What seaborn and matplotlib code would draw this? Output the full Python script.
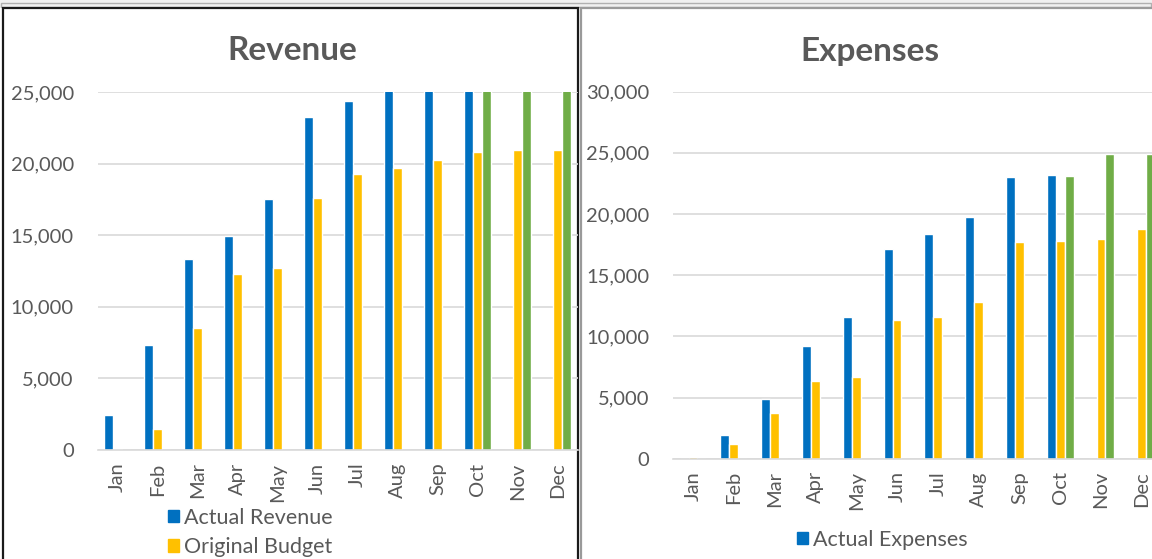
import matplotlib
matplotlib.use("Agg")
import matplotlib.pyplot as plt
from matplotlib.patches import Patch, Rectangle
from matplotlib.ticker import FuncFormatter, MultipleLocator
import pandas as pd
import seaborn as sns

# ---- data ----
months = ["Jan", "Feb", "Mar", "Apr", "May", "Jun",
          "Jul", "Aug", "Sep", "Oct", "Nov", "Dec"]

# Revenue chart (Aug-Dec tops run past the 25,000 axis limit and get clipped)
actual_revenue = [2440, 7330, 13360, 14940, 17530, 23280, 24390, 26800, 28100, 29400, 0, 0]
revenue_budget = [100, 1450, 8500, 12270, 12690, 17620, 19250, 19710, 20230, 20810, 20930, 20970]
revenue_forecast = [0, 0, 0, 0, 0, 0, 0, 0, 0, 30500, 31500, 32500]

# Expenses chart
actual_expenses = [0, 1940, 4880, 9240, 11610, 17120, 18340, 19780, 23050, 23190, 0, 0]
expense_budget = [100, 1180, 3710, 6350, 6650, 11340, 11560, 12830, 17740, 17820, 17960, 18750]
expense_forecast = [0, 0, 0, 0, 0, 0, 0, 0, 0, 23130, 24900, 24900]

rev_series = ["Actual Revenue", "Original Budget", "Forecast"]
exp_series = ["Actual Expenses", "Original Budget", "Forecast"]
colors = ["#0070C0", "#FFC000", "#70AD47"]

W, H = 1152, 559
TEXT = "#595959"
GRID = "#d9d9d9"

sns.set_style("white")
plt.rcParams["font.family"] = ["Lato", "DejaVu Sans"]


def long_df(names, cols):
    rows = []
    for name, vals in zip(names, cols):
        for m, v in zip(months, vals):
            rows.append({"Month": m, "Series": name, "Value": v})
    return pd.DataFrame(rows)


def fx(px):
    return px / W


def fy(py):
    return 1 - py / H


def draw(ax, df, names, ymax, width):
    sns.barplot(data=df, x="Month", y="Value", hue="Series", order=months,
                hue_order=names, palette=colors, width=width, saturation=1,
                errorbar=None, legend=False, ax=ax)
    ax.set_ylim(0, ymax)
    ax.set_xlim(-0.5, 11.5)
    ax.yaxis.set_major_locator(MultipleLocator(5000))
    ax.yaxis.set_major_formatter(FuncFormatter(lambda v, p: f"{v:,.0f}"))
    ax.yaxis.grid(True, color=GRID, lw=1.2)
    ax.set_axisbelow(True)
    ax.patch.set_alpha(0)
    for s in ["top", "right", "left"]:
        ax.spines[s].set_visible(False)
    ax.spines["bottom"].set_color(GRID)
    ax.spines["bottom"].set_linewidth(1.2)
    ax.tick_params(axis="y", length=0, pad=17, labelsize=14.5, labelcolor=TEXT)
    ax.tick_params(axis="x", length=0, pad=9, labelsize=14.5, labelcolor=TEXT,
                   rotation=90)
    ax.set_xlabel("")
    ax.set_ylabel("")


fig = plt.figure(figsize=(W / 100, H / 100), dpi=100)

# frame remnants of the spreadsheet window, kept behind the axes
fig.add_artist(Rectangle((0, fy(8)), 1, 1, transform=fig.transFigure,
                         facecolor="#f0f0f0", edgecolor="none", zorder=-10))
fig.add_artist(Rectangle((fx(1), fy(7)), fx(1150), 4 / H, transform=fig.transFigure,
                         facecolor="none", edgecolor="#b0b0b0", lw=1, zorder=-9))
fig.add_artist(Rectangle((fx(3), fy(580)), fx(575), 572 / H, transform=fig.transFigure,
                         facecolor="white", edgecolor="#1a1a1a", lw=1.6, zorder=-8))
fig.add_artist(Rectangle((fx(581), fy(580)), fx(590), 572 / H, transform=fig.transFigure,
                         facecolor="white", edgecolor="#9a9a9a", lw=1.6, zorder=-8))

# Revenue
ax1 = fig.add_axes([fx(97.5), fy(450), fx(480), 358 / H])
draw(ax1, long_df(rev_series, [actual_revenue, revenue_budget, revenue_forecast]),
     rev_series, 25000, 0.675)
fig.text(fx(292), fy(50), "Revenue", ha="center", va="center",
         fontsize=24, fontweight="bold", color=TEXT)
fig.legend(handles=[Patch(color=c, label=n) for c, n in zip(colors[:2], rev_series[:2])],
           loc="upper left", bbox_to_anchor=(fx(159), fy(499)), frameon=False,
           fontsize=15.5, labelcolor=TEXT, handlelength=0.55, handleheight=0.55,
           handletextpad=0.2, labelspacing=0.45, borderaxespad=0)

# Expenses
ax2 = fig.add_axes([fx(672.6), fy(458.7), fx(489.6), 367 / H])
draw(ax2, long_df(exp_series, [actual_expenses, expense_budget, expense_forecast]),
     exp_series, 30000, 0.66)
fig.text(fx(870), fy(52), "Expenses", ha="center", va="center",
         fontsize=24, fontweight="bold", color=TEXT)
fig.legend(handles=[Patch(color=colors[0], label=exp_series[0])],
           loc="upper left", bbox_to_anchor=(fx(788), fy(521)), frameon=False,
           fontsize=15.5, labelcolor=TEXT, handlelength=0.55, handleheight=0.55,
           handletextpad=0.2, borderaxespad=0)

fig.savefig("out.png", dpi=100)
